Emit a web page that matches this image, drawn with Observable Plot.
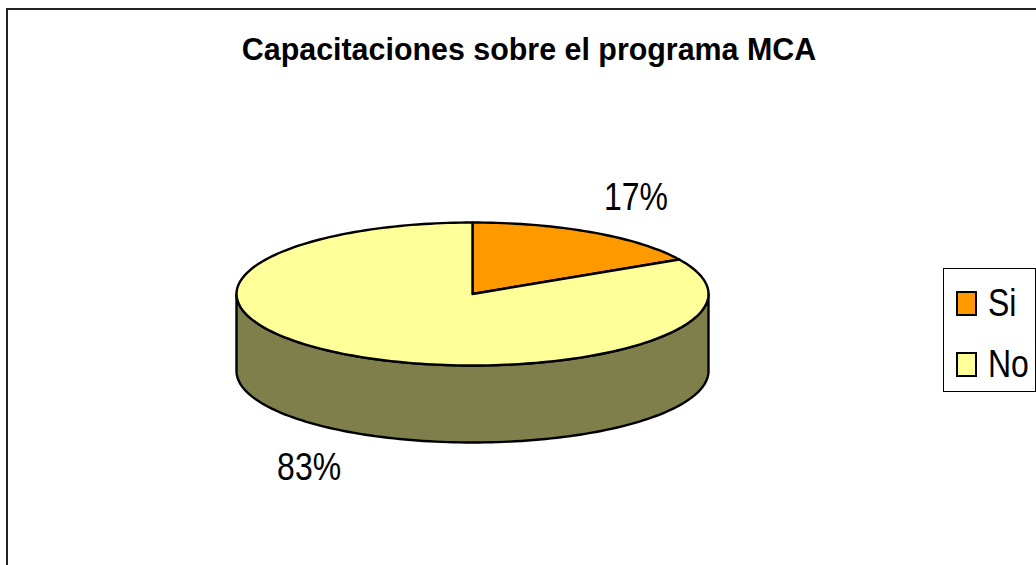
<!DOCTYPE html>
<html>
<head>
<meta charset="utf-8">
<script src="https://cdn.jsdelivr.net/npm/d3@7"></script>
<script src="https://cdn.jsdelivr.net/npm/@observablehq/plot@0.6"></script>
<style>
  body { margin: 0; background: #fff; }
  #wrap { position: relative; width: 1036px; height: 565px; overflow: hidden;
          font-family: "Liberation Sans Narrow", "Arial Narrow", "Liberation Sans", Arial, sans-serif; color: #000; }
  #frame { position: absolute; left: 6px; top: 8px; width: 1200px; height: 800px; border: 2px solid #222; box-sizing: border-box; }
  #chart { position: absolute; left: 0; top: 0; }
  #title { position: absolute; left: 0; width: 1058px; top: 33px; text-align: center; font-weight: bold;
           font-size: 32px; line-height: 32px; white-space: nowrap; transform: scaleX(0.95); transform-origin: 529px 0; }
  #legend { position: absolute; left: 943px; top: 268px; width: 93px; height: 124px; border: 1.5px solid #000; background: #fff; box-sizing: border-box; }
  .sw { position: absolute; width: 21px; height: 25px; border: 2px solid #000; box-sizing: border-box; }
  .lt { position: absolute; font-size: 39px; line-height: 39px; white-space: nowrap; transform: scaleX(0.82); transform-origin: 0 0; }
</style>
</head>
<body>
<div id="wrap">
  <div id="frame"></div>
  <div id="chart"></div>
  <div id="title"></div>
  <div id="legend"></div>
</div>
<script>
// ---- data ----
const title = "Capacitaciones sobre el programa MCA";
const categories = ["Si", "No"];
const values = [17, 83];
const labels = ["17%", "83%"];

// ---- styling ----
const topColors = ["#FF9900", "#FFFF99"];
const sideColors = ["#804D00", "#7F7F4C"];
const depth = 1.077;   // pie thickness in vertical radius units
const N = 240;         // arc samples per full turn

// slice angles (clockwise from 12 o'clock)
const total = d3.sum(values);
let acc = 0;
const slices = categories.map((c, i) => {
  const a0 = acc / total * 2 * Math.PI;
  acc += values[i];
  const a1 = acc / total * 2 * Math.PI;
  return {cat: c, i, a0, a1, label: labels[i]};
});

function arcPts(a0, a1, dy) {
  const n = Math.max(2, Math.ceil((a1 - a0) / (2 * Math.PI) * N));
  return d3.range(n + 1).map(k => {
    const a = a0 + (a1 - a0) * k / n;
    return {x: Math.sin(a), y: Math.cos(a) - dy};
  });
}

const marks = [];
// visible front wall (angles between PI/2 and 3PI/2)
for (const s of slices) {
  const b0 = Math.max(s.a0, Math.PI / 2), b1 = Math.min(s.a1, 3 * Math.PI / 2);
  if (b1 > b0) {
    const pts = [...arcPts(b0, b1, 0), ...arcPts(b0, b1, depth).reverse()];
    pts.push(pts[0]);
    marks.push(Plot.line(pts, {x: "x", y: "y", fill: sideColors[s.i], stroke: "#000", strokeWidth: 2.4, strokeLinejoin: "round"}));
  }
}
// top faces
for (const s of slices) {
  const pts = [{x: 0, y: 0}, ...arcPts(s.a0, s.a1, 0), {x: 0, y: 0}];
  marks.push(Plot.line(pts, {x: "x", y: "y", fill: topColors[s.i], stroke: "#000", strokeWidth: 2.4, strokeLinejoin: "round"}));
}
// data labels
const labelData = slices.map(s => {
  const m = (s.a0 + s.a1) / 2;
  const cy = Math.cos(m);
  return {x: 1.36 * Math.sin(m), y: 1.56 * cy - (cy < 0 ? depth : 0), label: s.label};
});
marks.push(Plot.text(labelData, {x: "x", y: "y", text: "label", fontSize: 39,
  fontFamily: "'Liberation Sans Narrow','Arial Narrow','Liberation Sans',Arial,sans-serif", fill: "#000"}));

const chart = Plot.plot({
  width: 1036, height: 565,
  margin: 0,
  x: {domain: [-1, 1], range: [236, 708], axis: null},
  y: {domain: [-1, 1], range: [365, 222], axis: null},
  style: {background: "transparent", overflow: "visible"},
  marks
});
// condense label glyphs horizontally (narrow face of the original)
chart.querySelectorAll("text").forEach(t => {
  const tr = t.getAttribute("transform");
  if (tr) {
    t.setAttribute("transform", tr + " scale(0.82,1)");
  } else {
    const x = +t.getAttribute("x") || 0, y = +t.getAttribute("y") || 0;
    t.setAttribute("transform", `translate(${x},${y}) scale(0.82,1)`);
    t.setAttribute("x", 0); t.setAttribute("y", 0);
  }
});
document.getElementById("chart").appendChild(chart);

// title
document.getElementById("title").textContent = title;

// legend
const wrap = document.getElementById("wrap");
const legendTops = [291, 352];
const textTops = [283, 344];
categories.forEach((c, i) => {
  const sw = document.createElement("div");
  sw.className = "sw";
  sw.style.left = "956px"; sw.style.top = legendTops[i] + "px";
  sw.style.background = topColors[i];
  wrap.appendChild(sw);
  const t = document.createElement("div");
  t.className = "lt";
  t.style.left = "988px"; t.style.top = textTops[i] + "px";
  t.textContent = c;
  wrap.appendChild(t);
});
</script>
</body>
</html>
